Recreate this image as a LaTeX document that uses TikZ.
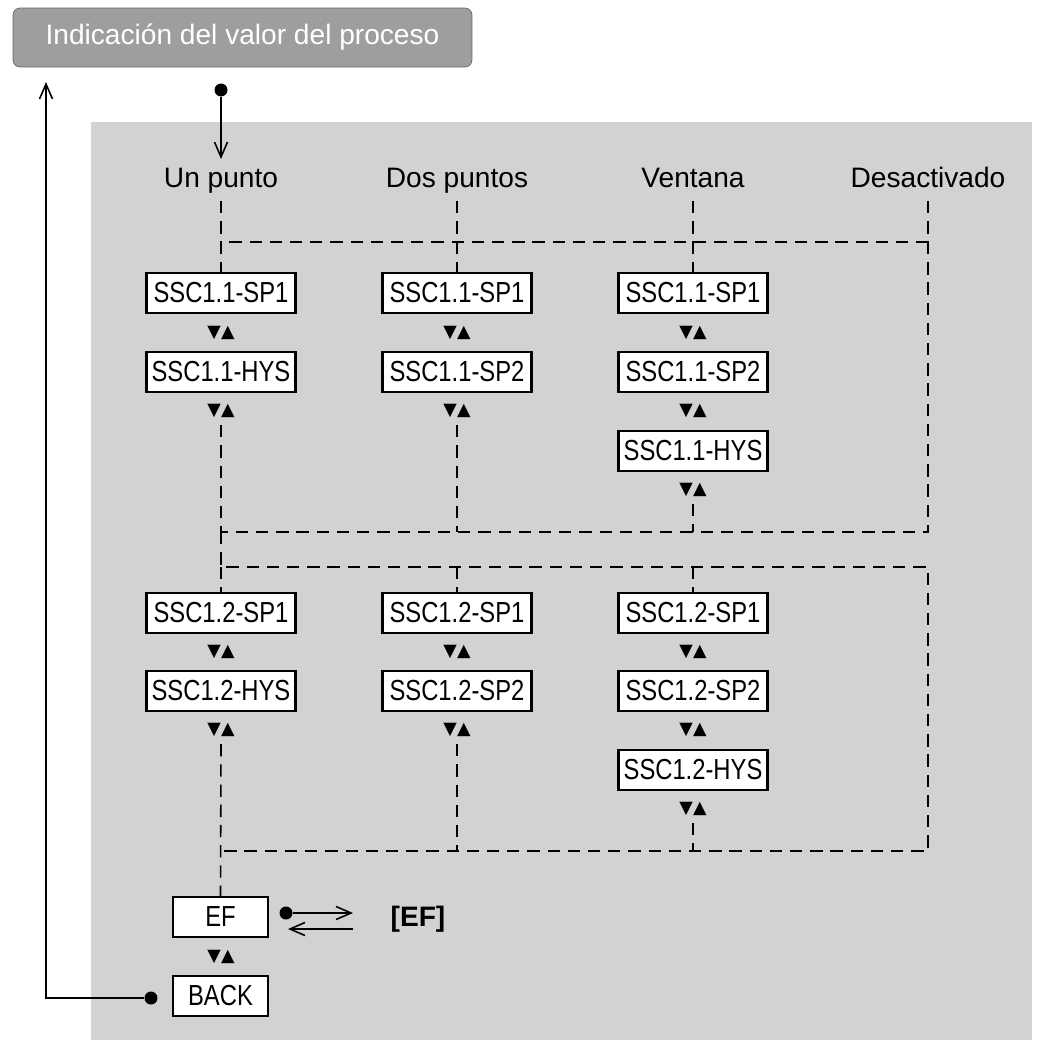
\documentclass[tikz,border=0pt]{standalone}
\usepackage{fontspec}
\setmainfont{Liberation Sans}
\newfontfamily\boxfont[FakeStretch=0.82]{Liberation Sans}
\newfontfamily\symfont{DejaVu Sans}
\usetikzlibrary{arrows.meta}
\definecolor{panel}{HTML}{D1D2D4}
\definecolor{topgray}{HTML}{9D9EA0}
\tikzset{
  menu/.style={draw=black, line width=1.2pt, fill=white, minimum width=2.98cm, minimum height=0.8cm, inner sep=0pt, font=\boxfont\fontsize{16.5}{18}\selectfont},
  lab/.style={font=\fontsize{16}{18}\selectfont, inner sep=0pt, text height=12pt, text depth=3.5pt},
  ud/.style={font=\symfont\fontsize{10}{12}\selectfont, inner sep=1pt},
  link/.style={line width=0.9pt, dash pattern=on 7pt off 4.5pt},
  solid line/.style={line width=0.9pt},
  barb/.style={-{Straight Barb[length=3mm,width=2.6mm,line width=0.9pt]}},
  dot/.style={circle, fill=black, inner sep=0pt, minimum size=0.26cm}
}
\begin{document}
\begin{tikzpicture}[x=0.02cm,y=-0.02cm]
  \useasboundingbox (0,0) rectangle (1037,1045);
  \fill[panel] (91,122) rectangle (1032,1040);
  \node[draw=gray!80!black, fill=topgray, rounded corners=4pt, minimum width=9.18cm, minimum height=1.18cm,
        text=white, font=\fontsize{16}{18}\selectfont] (pv) at (242.5,37.5) {Indicación del valor del proceso};
  % column headings
  \node[lab] (h1) at (221,180) {Un punto};
  \node[lab] (h2) at (457,180) {Dos puntos};
  \node[lab] (h3) at (693,180) {Ventana};
  \node[lab] (h4) at (928,180) {Desactivado};
  \node[dot] (in) at (221,90) {};
  \draw[solid line,barb] (in) -- ([yshift=4pt]h1.north);
  % switch point 1.1
  \node[menu] (a1) at (221,293) {SSC1.1-SP1};
  \node[menu] (a2) at (221,372) {SSC1.1-HYS};
  \node[menu] (b1) at (457,293) {SSC1.1-SP1};
  \node[menu] (b2) at (457,372) {SSC1.1-SP2};
  \node[menu] (c1) at (693,293) {SSC1.1-SP1};
  \node[menu] (c2) at (693,372) {SSC1.1-SP2};
  \node[menu] (c3) at (693,451) {SSC1.1-HYS};
  \node[ud] (ua1) at (221,333) {▼▲};
  \node[ud] (ua2) at (221,411) {▼▲};
  \node[ud] (ub1) at (457,333) {▼▲};
  \node[ud] (ub2) at (457,411) {▼▲};
  \node[ud] (uc1) at (693,333) {▼▲};
  \node[ud] (uc2) at (693,411) {▼▲};
  \node[ud] (uc3) at (693,490) {▼▲};
  % switch point 1.2
  \node[menu] (d1) at (221,613) {SSC1.2-SP1};
  \node[menu] (d2) at (221,691) {SSC1.2-HYS};
  \node[menu] (e1) at (457,613) {SSC1.2-SP1};
  \node[menu] (e2) at (457,691) {SSC1.2-SP2};
  \node[menu] (f1) at (693,613) {SSC1.2-SP1};
  \node[menu] (f2) at (693,691) {SSC1.2-SP2};
  \node[menu] (f3) at (693,770) {SSC1.2-HYS};
  \node[ud] (ud1) at (221,652) {▼▲};
  \node[ud] (ud2) at (221,730) {▼▲};
  \node[ud] (ue1) at (457,652) {▼▲};
  \node[ud] (ue2) at (457,730) {▼▲};
  \node[ud] (uf1) at (693,652) {▼▲};
  \node[ud] (uf2) at (693,730) {▼▲};
  \node[ud] (uf3) at (693,809) {▼▲};
  % EF and BACK
  \node[menu, minimum width=1.9cm] (ef) at (220.5,917) {EF};
  \node[ud] (uef) at (221,957) {▼▲};
  \node[menu, minimum width=1.9cm] (back) at (220.5,996) {BACK};
  \node[font=\bfseries\fontsize{16}{18}\selectfont, inner sep=0pt] (efx) at (418,919) {[EF]};
  \node[dot] (efdot) at (286,913) {};
  \coordinate (eftip) at (353,913);
  \coordinate (efret) at (353,929);
  \coordinate (efend) at (288,929);
  \draw[solid line,barb] (efdot) -- (eftip);
  \draw[solid line,barb] (efret) -- (efend);
  \node[dot] (bdot) at (151,998) {};
  \coordinate (bcorner) at (46,998);
  \coordinate (btop) at (46,82);
  \draw[solid line,barb] (bdot) -- (bcorner) -- (btop);
  % dashed links, part 1
  \coordinate (j1) at (221,242);
  \coordinate (j4) at (928,242);
  \coordinate (k1) at (221,532);
  \coordinate (k4) at (928,532);
  \draw[link] ([yshift=-4pt]h1.south) -- (a1.north);
  \draw[link] ([yshift=-4pt]h2.south) -- (b1.north);
  \draw[link] ([yshift=-4pt]h3.south) -- (c1.north);
  \draw[link] ([yshift=-4pt]h4.south) -- (j4) -- (j1);
  \draw[link] ([yshift=-3pt]ua2.south) -- (k1);
  \draw[link] ([yshift=-3pt]ub2.south) -- (457,532);
  \draw[link] ([yshift=-3pt]uc3.south) -- (693,532);
  \draw[link] (j4) -- (k4) -- (k1);
  % dashed links, part 2
  \coordinate (m1) at (221,567);
  \coordinate (m4) at (928,567);
  \coordinate (n1) at (221,851);
  \coordinate (n4) at (928,851);
  \draw[link] (k1) -- (m1) -- (m4) -- (n4) -- (n1);
  \draw[link] (m1) -- (d1.north);
  \draw[link] (457,567) -- (e1.north);
  \draw[link] (693,567) -- (f1.north);
  \draw[link] ([yshift=-3pt]ud2.south) -- (ef.north);
  \draw[link] ([yshift=-3pt]ue2.south) -- (457,851);
  \draw[link] ([yshift=-3pt]uf3.south) -- (693,851);
\end{tikzpicture}
\end{document}
